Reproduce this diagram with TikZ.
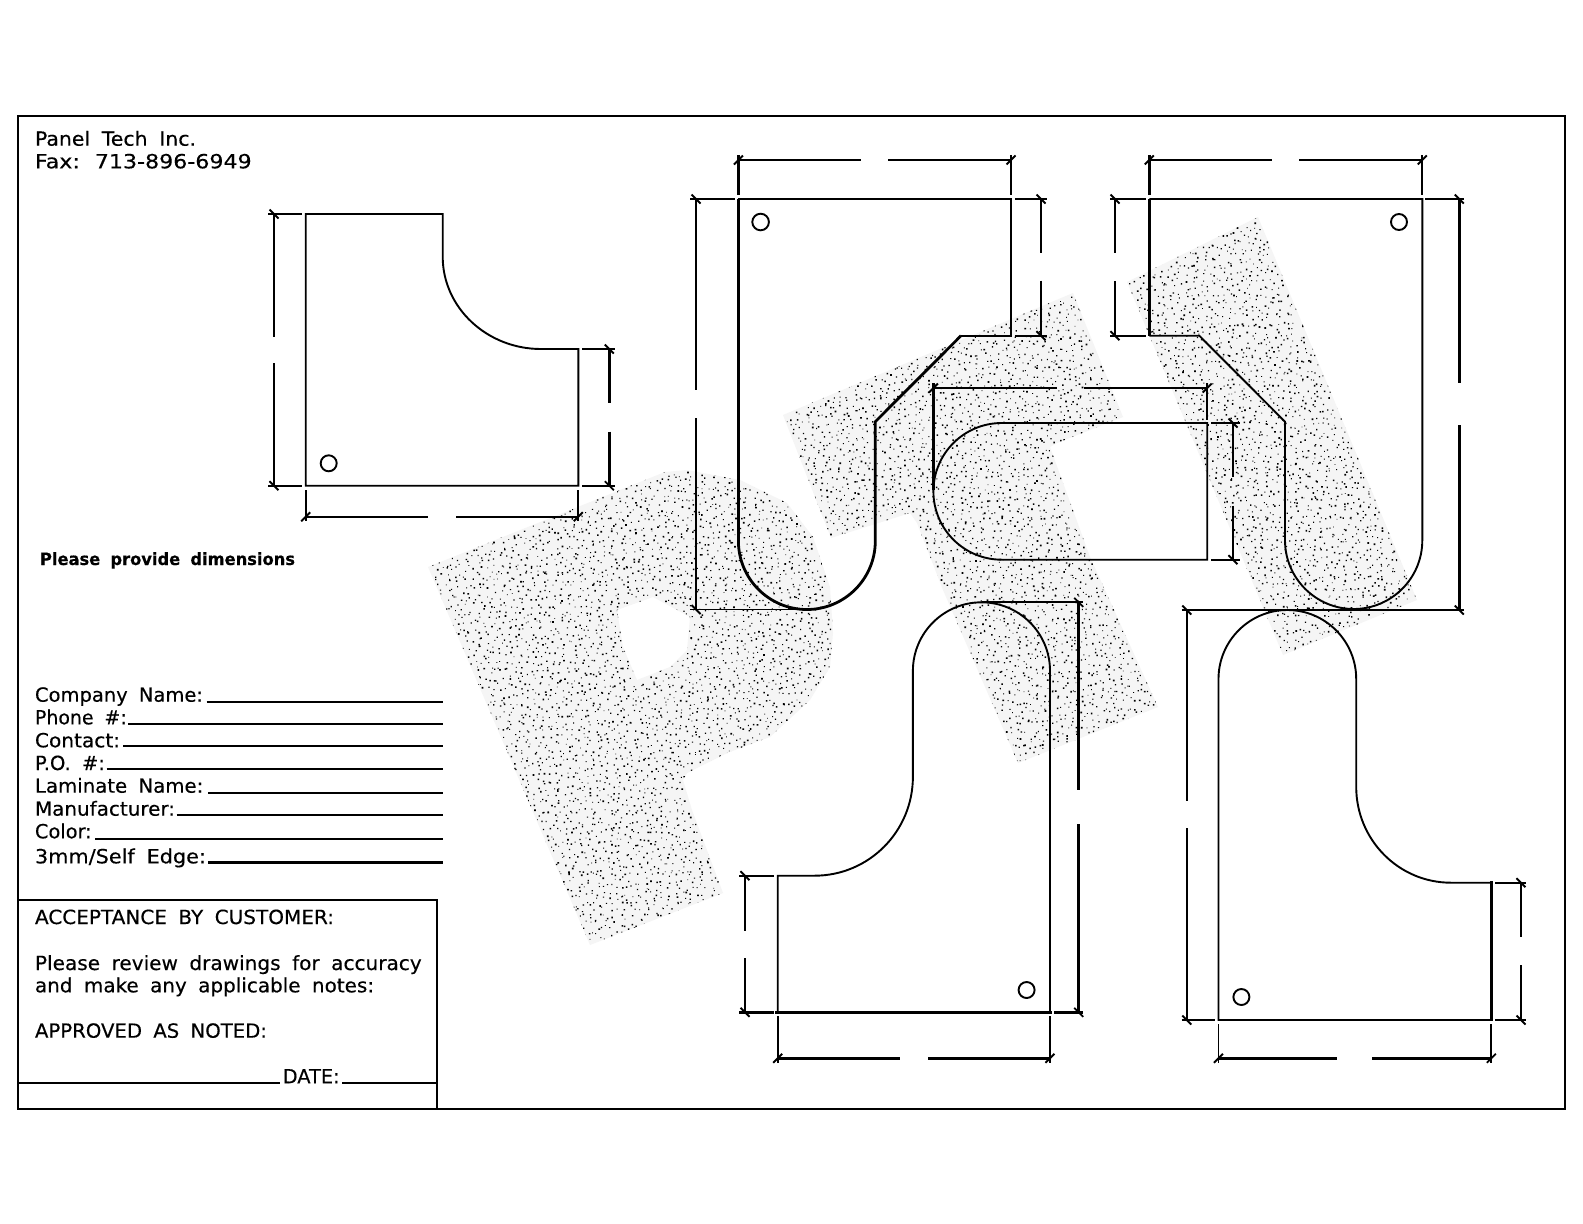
\documentclass[tikz,border=0pt]{standalone}
\usepackage{graphicx}
\usepackage{fontspec}
\setmainfont[WordSpace=1.8,FakeBold=0.35]{DejaVu Sans}
\newcount\sx \newcount\sy \newcount\sxmax \newcount\symin \newcount\symax
\newdimen\hund \hund=.01pt
\makeatletter
\def\stiprow{\ifnum\sy<\symax
  \pgfmathrandominteger{\ja}{0}{660}%
  \pgfmathrandominteger{\jb}{0}{660}%
  \pgfmathrandominteger{\jc}{80}{170}%
  \pgfpathrectangle{\pgfqpoint{\dimexpr\sx pt+\ja\hund\relax}{\dimexpr-\sy pt-\jb\hund\relax}}{\pgfqpoint{\jc\hund}{\jc\hund}}%
  \advance\sy by 6
  \expandafter\stiprow\fi}
\def\stipcol{\ifnum\sx<\sxmax
  \sy=\symin \stiprow
  \advance\sx by 6
  \expandafter\stipcol\fi}
\makeatother
% #1 x min, #2 x max, #3 y min, #4 y max
\newcommand\stipplebox[4]{\sx=#1 \sxmax=#2 \symin=#3 \symax=#4 \stipcol
  \pgfsetnonzerorule\pgfsetfillcolor{black}\pgfusepath{fill}}
\tikzset{
  thin line/.style={line width=1.9pt,line cap=butt,line join=miter},
  heavy line/.style={line width=2.8pt,line cap=butt,line join=miter},
  hole/.style={line width=1.9pt},
  lbl/.style={anchor=base west,inner sep=0pt,outer sep=0pt,font=\fontsize{19.5}{22}\selectfont},
  halo/.style={fill=black!4}
}
% vertical dimension: x, y1, y2, gap1, gap2, style
\newcommand\dimV[6]{\draw[#6] (#1,#2)--(#1,#4) (#1,#5)--(#1,#3);
  \draw[thin line] (#1-4.5,#2-4.5)--(#1+4.5,#2+4.5) (#1-4.5,#3-4.5)--(#1+4.5,#3+4.5);}
% horizontal dimension: y, x1, x2, gap1, gap2, style
\newcommand\dimH[6]{\draw[#6] (#2,#1)--(#4,#1) (#5,#1)--(#3,#1);
  \draw[thin line] (#2-4.5,#1+4.5)--(#2+4.5,#1-4.5) (#3-4.5,#1+4.5)--(#3+4.5,#1-4.5);}
\newcommand\lbl[6][lbl]{\node[#1] (#2) at (#3,#4) {\resizebox{#5pt}{\height}{#6}};}
\begin{document}
\begin{tikzpicture}[x=1pt,y=-1pt]
\fill[white] (0,0) rectangle (1583,1224);
\useasboundingbox (0,0) rectangle (1583,1224);
\pgfmathsetseed{4711}
% ---- stippled watermark letters
\begin{scope}[even odd rule]
\clip (428,567)--(665,472)--(687,470)--(740,480)--(787,503)--(813,537)--(830,587)--(833,633)--(830,667)--(810,700)--(770,737)--(727,753)--(687,773)--(683,780)--(692,810)--(723,893)--(590,945)--cycle
 (617,610)--(653,597)--(690,617)--(687,650)--(670,667)--(637,680)--(623,647)--cycle;
\fill[halo] (420,460) rectangle (840,950);
\stipplebox{425}{838}{465}{950}
\end{scope}
\begin{scope}
\clip (783,415)--(1073,293)--(1123,417)--(1057,443)--(1050,447)--(1090,557)--(1158,707)--(1018,763)--(943,590)--(917,523)--(910,513)--(831,538)--cycle;
\fill[halo] (775,285) rectangle (1165,770);
\stipplebox{778}{1160}{290}{768}
\end{scope}
\begin{scope}
\clip (1127,282)--(1258,217)--(1417,600)--(1283,655)--cycle;
\fill[halo] (1120,210) rectangle (1420,660);
\stipplebox{1122}{1420}{212}{660}
\end{scope}
% ---- frame and acceptance box
\draw[thin line] (17.7,116) rectangle (1565,1109);
\draw[thin line] (17.7,900)--(436.7,900)--(436.7,1110);
\draw[thin line] (17.7,1082.7)--(280,1082.7) (342,1082.7)--(436.7,1082.7);
% ---- panel A
\draw[thin line] (305.7,214)--(442.7,214)--(442.7,256.7) .. controls (442.7,307.7) and (487,349) .. (541,349)--(578.3,349)--(578.3,485.7)--(305.7,485.7)--cycle;
\draw[hole] (328.7,463.3) circle (8);
\dimV{274}{214}{485.7}{336.7}{363.3}{thin line}
\dimV{609.3}{349}{485.7}{403}{431.7}{heavy line}
\dimH{516.7}{305.7}{578.3}{428}{456}{thin line}
\draw[thin line] (268,214)--(301.7,214) (268,485.7)--(301.7,485.7) (582,349)--(615,349) (582,485.7)--(615,485.7) (305.7,490)--(305.7,521) (578.3,490)--(578.3,521);
% ---- panel B
\draw[thin line] (738.4,199)--(1011,199)--(1011,335.7)--(961,335.7);
\draw[heavy line] (961,335.7)--(875.3,421.7)--(875.3,541) .. controls (875.3,578.8) and (844.6,609.5) .. (806.85,609.5) .. controls (769.05,609.5) and (738.4,578.8) .. (738.4,541)--(738.4,199);
\draw[hole] (760.6,222) circle (8.3);
\dimH{160}{738.4}{1011}{860.5}{888.3}{thin line}
\dimV{696}{199}{609.5}{390}{418}{thin line}
\dimV{1041}{199}{335.7}{253}{280.7}{thin line}
\draw[heavy line] (738.4,155)--(738.4,195);
\draw[thin line] (1011,155)--(1011,195) (690,199)--(734.7,199) (690,609.5)--(806,609.5) (1014.8,199)--(1046.6,199) (1014.8,335.7)--(1046.6,335.7);
% ---- panel C
\draw[thin line] (1001.8,423)--(1207.2,423)--(1207.2,559.7)--(1001.8,559.7) .. controls (964,559.7) and (933.4,529.1) .. (933.4,491.35) .. controls (933.4,453.6) and (964,423) .. (1001.8,423)--cycle;
\dimH{388}{933.4}{1207.2}{1056.6}{1083.6}{thin line}
\dimV{1233}{423}{559.7}{476.7}{505.7}{thin line}
\draw[heavy line] (933.4,383)--(933.4,490);
\draw[thin line] (1207.2,383)--(1207.2,420) (1211,423)--(1239.7,423) (1211,559.7)--(1239.7,559.7);
% ---- panel D
\draw[thin line] (1149.3,199)--(1422.3,199)--(1422.3,540.4) .. controls (1422.3,578.2) and (1391.5,609) .. (1353.7,609) .. controls (1315.9,609) and (1285,578.2) .. (1285,540.4)--(1285,421.7)--(1199.3,335.7)--(1149.3,335.7);
\draw[heavy line] (1149.3,335.7)--(1149.3,199);
\draw[hole] (1399,222) circle (8);
\dimH{160}{1149.3}{1422.3}{1271.7}{1299}{thin line}
\dimV{1115}{199}{335.7}{253}{281}{thin line}
\dimV{1459.3}{199}{610}{383.3}{425}{heavy line}
\draw[heavy line] (1149.3,155)--(1149.3,195);
\draw[thin line] (1422.3,155)--(1422.3,195) (1110,199)--(1146,199) (1110,335.7)--(1146,335.7) (1425,199)--(1464,199) (1181.7,610)--(1464,610);
% ---- panel E
\draw[thin line] (777.7,1012.3)--(777.7,875.7)--(814.4,875.7) .. controls (869,875.7) and (912.9,831.4) .. (912.9,776.7)--(912.9,670.8) .. controls (912.9,633) and (943.7,602.3) .. (981.5,602.3) .. controls (1019.3,602.3) and (1050,633) .. (1050,670.8)--(1050,1012.3);
\draw[heavy line] (775,1012.3)--(1052,1012.3);
\draw[hole] (1026.6,990) circle (8);
\dimV{745}{875.7}{1012.3}{931}{958.3}{thin line}
\dimV{1078.7}{602.3}{1012.3}{790}{824.3}{heavy line}
\dimH{1058.3}{777.7}{1050}{900}{928}{heavy line}
\draw[thin line] (739.4,875.7)--(773.6,875.7) (981.5,602.3)--(1083,602.3) (777.7,1016)--(777.7,1063) (1050,1016)--(1050,1063);
\draw[heavy line] (739.4,1012.3)--(773.6,1012.3) (1054,1012.3)--(1083,1012.3);
% ---- panel F
\draw[thin line] (1491.3,1020)--(1218.5,1020)--(1218.5,678.9) .. controls (1218.5,641) and (1249.4,610) .. (1287.3,610) .. controls (1325.3,610) and (1356.2,641) .. (1356.2,678.9)--(1356.2,786.7) .. controls (1356.2,839.8) and (1398.6,882.7) .. (1451,882.7)--(1491.3,882.7);
\draw[heavy line] (1491.3,881.3)--(1491.3,1021);
\draw[hole] (1241.4,997) circle (8);
\dimV{1186.8}{610}{1020}{800.7}{828.3}{thin line}
\dimV{1521}{882.7}{1020}{937.3}{965.3}{thin line}
\dimH{1058.3}{1218.5}{1491.3}{1337}{1372}{heavy line}
\draw[thin line] (1181.7,1020)--(1215,1020) (1495,882.7)--(1526,882.7) (1495,1020)--(1526,1020) (1218.5,1024)--(1218.5,1063) (1491.3,1024)--(1491.3,1063);
% ---- text
\lbl{t1}{35}{145.7}{161}{Panel Tech Inc.}
\lbl{t2}{35}{168.3}{216.7}{Fax: 713-896-6949}
\lbl[lbl,font=\fontsize{17}{20}\selectfont\bfseries]{t3}{40}{565}{255}{Please provide dimensions}
\lbl{f1}{35}{701.7}{168}{Company Name:}
\lbl{f2}{35}{724.3}{91.7}{Phone \#:}
\lbl{f3}{35}{747.3}{85}{Contact:}
\lbl{f4}{35}{770}{70}{P.O. \#:}
\lbl{f5}{35}{792.7}{168.3}{Laminate Name:}
\lbl{f6}{35}{815.7}{140}{Manufacturer:}
\lbl{f7}{35}{838.3}{56.7}{Color:}
\lbl{f8}{35}{863.3}{171}{3mm/Self Edge:}
\draw[thin line] (206.7,702)--(442.7,702) (128.3,723.7)--(442.7,723.7) (123.3,746)--(442.7,746) (106.7,769.3)--(442.7,769.3) (208,792.7)--(442.7,792.7) (176.7,814.7)--(442.7,814.7) (95,839)--(442.7,839);
\draw[heavy line] (208,862.3)--(442.7,862.3);
\lbl{b1}{35}{924}{299}{ACCEPTANCE BY CUSTOMER:}
\lbl{b2}{35}{970}{386.7}{Please review drawings for accuracy}
\lbl{b3}{35}{992.3}{339}{and make any applicable notes:}
\lbl{b4}{35}{1037.7}{232}{APPROVED AS NOTED:}
\lbl{b5}{282.7}{1083.3}{57}{DATE:}
\end{tikzpicture}
\end{document}
